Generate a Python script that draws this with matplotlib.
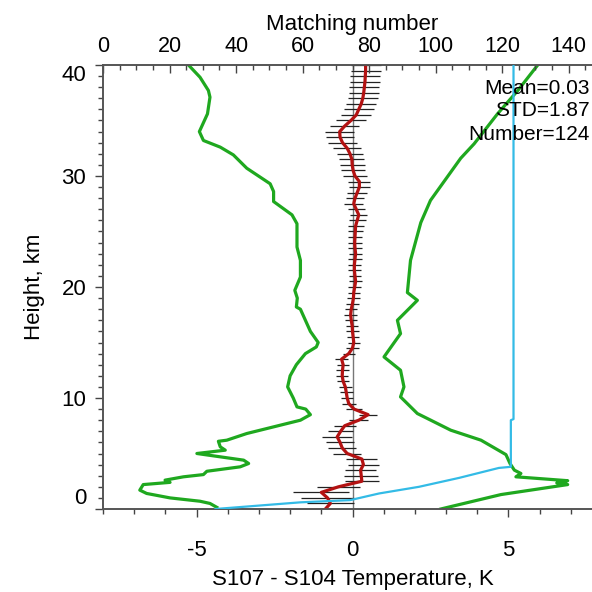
import numpy as np
import matplotlib
matplotlib.use('Agg')
import matplotlib.pyplot as plt
from matplotlib.ticker import MultipleLocator

plt.rcParams['font.family'] = ['Liberation Sans', 'DejaVu Sans']
plt.rcParams['axes.unicode_minus'] = False

# mean difference S107 - S104 (K) every 0.5 km, 0..40 km
heights = np.arange(0, 40.5, 0.5)
mean_diff = [-0.87, -0.71, -0.80, -1.00, -0.45, 0.30, 0.28, 0.26, 0.35, 0.30,
             -0.17, -0.33, -0.40, -0.49, -0.38, -0.25, 0.20, 0.50, 0.05, -0.12,
             -0.17, -0.20, -0.23, -0.30, -0.33, -0.32, -0.30, -0.35, -0.12, 0.00,
             0.04, 0.02, 0.00, -0.01, -0.04, -0.06, -0.04, 0.00, 0.03, 0.04,
             0.07, 0.10, 0.08, 0.06, 0.06, 0.08, 0.10, 0.08, 0.07, 0.08,
             0.09, 0.10, 0.15, 0.20, 0.12, 0.04, 0.08, 0.15, 0.22, 0.22,
             0.08, 0.02, -0.01, -0.02, -0.08, -0.17, -0.32, -0.40, -0.41, -0.25,
             -0.05, 0.12, 0.20, 0.28, 0.33, 0.36, 0.38, 0.40, 0.41, 0.42, 0.42]
err_half = [0.70, 0.75, 0.85, 0.90, 0.70, 0.55, 0.55, 0.50, 0.50, 0.50,
            0.45, 0.45, 0.45, 0.48, 0.40, 0.35, 0.30, 0.30, 0.25, 0.22,
            0.20, 0.20, 0.20, 0.20, 0.20, 0.20, 0.20, 0.20, 0.20, 0.20,
            0.20, 0.20, 0.20, 0.20, 0.20, 0.20, 0.20, 0.20, 0.20, 0.20,
            0.20, 0.20, 0.20, 0.20, 0.20, 0.22, 0.22, 0.22, 0.22, 0.24,
            0.25, 0.26, 0.27, 0.28, 0.28, 0.30, 0.30, 0.32, 0.34, 0.35,
            0.37, 0.38, 0.40, 0.40, 0.42, 0.44, 0.45, 0.46, 0.47, 0.47,
            0.48, 0.48, 0.48, 0.48, 0.48, 0.48, 0.48, 0.48, 0.48, 0.48, 0.48]

# left green curve (K, km)
left_h = [0.15, 0.5, 0.7, 1.0, 1.4, 1.7, 2.2, 2.4, 2.6, 2.9, 3.1, 3.4, 3.8, 4.1,
          4.4, 5.0, 5.3, 5.6, 6.1, 6.2, 6.8, 7.4, 8.0, 8.5, 9.0, 9.2, 10.0, 11.0,
          12.0, 13.0, 14.0, 14.6, 15.0, 16.0, 17.0, 18.0, 18.2, 19.0, 19.7, 20.9,
          22.4, 23.6, 25.7, 26.5, 27.7, 28.6, 29.3, 30.7, 31.9, 32.6, 33.2, 34.0,
          35.6, 37.1, 37.7, 38.9, 40.0]
left_t = [-4.35, -4.57, -4.89, -5.85, -6.60, -6.82, -6.71, -5.85, -6.01, -5.42,
          -4.78, -4.67, -3.60, -3.33, -3.49, -4.99, -4.08, -4.24, -4.30, -4.03,
          -3.39, -2.53, -1.67, -1.35, -1.50, -1.78, -1.90, -2.08, -2.00, -1.80,
          -1.51, -1.16, -1.10, -1.35, -1.51, -1.67, -1.80, -1.77, -1.85, -1.67,
          -1.67, -1.78, -1.78, -1.94, -2.53, -2.53, -2.64, -3.39, -3.82, -4.24,
          -4.78, -4.91, -4.65, -4.57, -4.62, -4.89, -5.26]

# right green curve (K, km)
right_h = [0.0, 1.3, 2.2, 2.35, 2.55, 2.9, 3.2, 3.5, 4.1, 4.9, 6.2, 7.1, 8.0, 8.6,
           10.1, 11.0, 12.5, 13.7, 15.8, 17.0, 18.8, 19.5, 22.4, 25.8, 27.8,
           31.6, 32.9, 35.6, 37.7, 40.0]
right_t = [2.83, 4.76, 6.90, 6.55, 6.90, 5.24, 5.40, 5.19, 5.05, 4.92, 4.12,
           3.15, 2.51, 2.08, 1.54, 1.65, 1.54, 1.01, 1.54, 1.44, 2.08, 1.76,
           1.86, 2.19, 2.50, 3.47, 3.90, 4.65, 5.30, 5.94]

# matching number (top axis)
match_h = [0.0, 0.6, 0.8, 1.4, 2.0, 2.8, 3.7, 3.8, 8.0, 8.1, 40.0]
match_n = [33.8, 59.3, 74.3, 83.0, 95.0, 107.0, 119.0, 122.6, 122.6, 123.4, 123.4]

height_ticks = [0, 10, 20, 30, 40]
stats = ['Mean=0.03', 'STD=1.87', 'Number=124']

fig = plt.figure(figsize=(5.92, 5.92), dpi=100)
ax = fig.add_axes([103 / 592, 83 / 592, 499 / 592, 444 / 592])

ax.axvline(0, color='#777777', lw=1.0, zorder=1)
ax.plot(left_t, left_h, color='#1fa81f', lw=2.3, zorder=2)
ax.plot(right_t, right_h, color='#1fa81f', lw=2.3, zorder=2)
ax.errorbar(mean_diff, heights, xerr=err_half, fmt='none', ecolor='#222222',
            elinewidth=0.9, zorder=3)
ax.plot(mean_diff, heights, color='#b31212', lw=2.3, zorder=4)

ax.set_xlim(-8, 8)
ax.set_ylim(0, 40)
ax.set_xticks([-5, 0, 5])
ax.xaxis.set_minor_locator(MultipleLocator(1))
ax.set_yticks(height_ticks)
ax.yaxis.set_minor_locator(MultipleLocator(1))
ax.tick_params(axis='x', which='major', direction='out', length=6, width=1,
               labelsize=16, pad=16, color='#444444')
ax.tick_params(axis='x', which='minor', direction='out', length=3.5, width=1,
               color='#444444')
ax.tick_params(axis='y', which='major', direction='out', length=6, width=1,
               labelsize=16, pad=6, color='#444444')
ax.tick_params(axis='y', which='minor', direction='out', length=3.5, width=1,
               color='#444444')
ax.set_xlabel('S107 - S104 Temperature, K', fontsize=16, labelpad=6)
ax.set_ylabel('Height, km', fontsize=16, labelpad=12)
for sp in ax.spines.values():
    sp.set_color('#555555')
    sp.set_linewidth(1.2)

ylabels = ax.get_yticklabels()
ylabels[0].set_va('bottom')
ylabels[-1].set_va('top')

ax2 = ax.twiny()
ax2.plot(match_n, match_h, color='#33bbe6', lw=1.6, zorder=5)
ax2.set_xlim(0, 150)
ax2.set_ylim(0, 40)
ax2.xaxis.set_major_locator(MultipleLocator(20))
ax2.xaxis.set_minor_locator(MultipleLocator(5))
ax2.tick_params(axis='x', which='major', direction='in', length=6, width=1,
                labelsize=15.5, pad=6, color='#444444')
ax2.tick_params(axis='x', which='minor', direction='in', length=3.5, width=1,
                color='#444444')
ax2.set_xlabel('Matching number', fontsize=16, labelpad=4)
for sp in ax2.spines.values():
    sp.set_color('#555555')
    sp.set_linewidth(1.2)

for i, s in enumerate(stats):
    fig.text(590 / 592, 1 - (88 + 23 * i) / 592, s, ha='right', va='center',
             fontsize=15)

fig.savefig('out.png', dpi=100)
